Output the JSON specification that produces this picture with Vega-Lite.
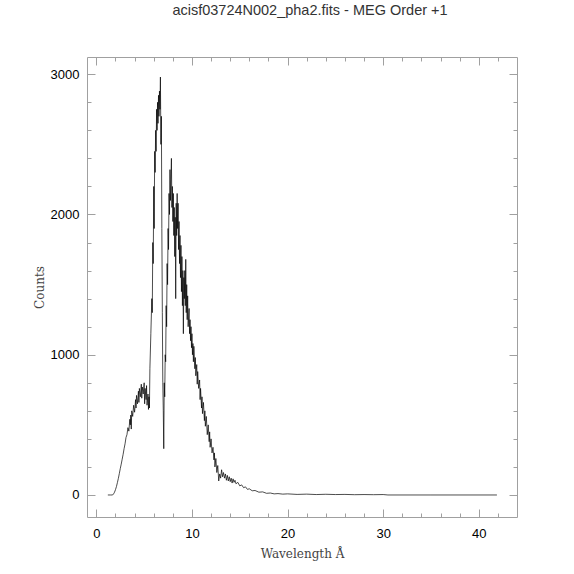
{
  "$schema": "https://vega.github.io/schema/vega-lite/v6.json",
  "width": 430,
  "height": 460,
  "autosize": "none",
  "padding": {"left": 87, "top": 57, "right": 57, "bottom": 57},
  "background": "white",
  "title": {
    "text": "acisf03724N002_pha2.fits - MEG Order +1",
    "font": "Liberation Sans",
    "fontSize": 14.5,
    "fontWeight": "normal",
    "color": "#333333",
    "anchor": "middle",
    "dx": 8,
    "offset": 38
  },
  "datasets": {
    "spec": [
      {"wavelength": 1.2, "counts": 0}, {"wavelength": 1.5, "counts": 0}, {"wavelength": 1.7, "counts": 0},
      {"wavelength": 1.8, "counts": 8}, {"wavelength": 1.9, "counts": 20}, {"wavelength": 2.0, "counts": 38},
      {"wavelength": 2.1, "counts": 60}, {"wavelength": 2.2, "counts": 88}, {"wavelength": 2.3, "counts": 118},
      {"wavelength": 2.4, "counts": 152}, {"wavelength": 2.5, "counts": 188}, {"wavelength": 2.6, "counts": 220},
      {"wavelength": 2.7, "counts": 255}, {"wavelength": 2.8, "counts": 290}, {"wavelength": 2.9, "counts": 330},
      {"wavelength": 3.0, "counts": 365}, {"wavelength": 3.1, "counts": 410}, {"wavelength": 3.2, "counts": 430},
      {"wavelength": 3.3, "counts": 480}, {"wavelength": 3.4, "counts": 455}, {"wavelength": 3.5, "counts": 540},
      {"wavelength": 3.55, "counts": 500}, {"wavelength": 3.6, "counts": 570}, {"wavelength": 3.65, "counts": 470},
      {"wavelength": 3.7, "counts": 600}, {"wavelength": 3.8, "counts": 560}, {"wavelength": 3.9, "counts": 640},
      {"wavelength": 4.0, "counts": 590}, {"wavelength": 4.1, "counts": 680}, {"wavelength": 4.15, "counts": 620},
      {"wavelength": 4.2, "counts": 710}, {"wavelength": 4.3, "counts": 650}, {"wavelength": 4.4, "counts": 740},
      {"wavelength": 4.45, "counts": 660}, {"wavelength": 4.5, "counts": 760}, {"wavelength": 4.6, "counts": 700},
      {"wavelength": 4.7, "counts": 790}, {"wavelength": 4.75, "counts": 690}, {"wavelength": 4.8, "counts": 770},
      {"wavelength": 4.9, "counts": 720}, {"wavelength": 5.0, "counts": 800}, {"wavelength": 5.05, "counts": 650},
      {"wavelength": 5.1, "counts": 760}, {"wavelength": 5.2, "counts": 680}, {"wavelength": 5.25, "counts": 780},
      {"wavelength": 5.3, "counts": 640}, {"wavelength": 5.4, "counts": 720}, {"wavelength": 5.45, "counts": 610},
      {"wavelength": 5.5, "counts": 700}, {"wavelength": 5.55, "counts": 620}, {"wavelength": 5.6, "counts": 900},
      {"wavelength": 5.7, "counts": 1150}, {"wavelength": 5.8, "counts": 1400}, {"wavelength": 5.85, "counts": 1300},
      {"wavelength": 5.9, "counts": 1800}, {"wavelength": 5.95, "counts": 1650}, {"wavelength": 6.0, "counts": 2200},
      {"wavelength": 6.05, "counts": 1900}, {"wavelength": 6.1, "counts": 2450}, {"wavelength": 6.15, "counts": 2300},
      {"wavelength": 6.2, "counts": 2600}, {"wavelength": 6.25, "counts": 2450}, {"wavelength": 6.3, "counts": 2750},
      {"wavelength": 6.35, "counts": 2600}, {"wavelength": 6.4, "counts": 2800}, {"wavelength": 6.45, "counts": 2650},
      {"wavelength": 6.5, "counts": 2850}, {"wavelength": 6.55, "counts": 2700}, {"wavelength": 6.6, "counts": 2880},
      {"wavelength": 6.65, "counts": 2750}, {"wavelength": 6.7, "counts": 2980}, {"wavelength": 6.75, "counts": 2500},
      {"wavelength": 6.8, "counts": 2700}, {"wavelength": 6.85, "counts": 1900}, {"wavelength": 6.9, "counts": 1300},
      {"wavelength": 6.95, "counts": 800}, {"wavelength": 7.0, "counts": 600}, {"wavelength": 7.05, "counts": 330},
      {"wavelength": 7.1, "counts": 800}, {"wavelength": 7.15, "counts": 700}, {"wavelength": 7.2, "counts": 1000},
      {"wavelength": 7.25, "counts": 950}, {"wavelength": 7.3, "counts": 1350}, {"wavelength": 7.35, "counts": 1200},
      {"wavelength": 7.4, "counts": 1650}, {"wavelength": 7.45, "counts": 1500}, {"wavelength": 7.5, "counts": 1900},
      {"wavelength": 7.55, "counts": 1750}, {"wavelength": 7.6, "counts": 2150}, {"wavelength": 7.65, "counts": 2000},
      {"wavelength": 7.7, "counts": 2320}, {"wavelength": 7.75, "counts": 2100}, {"wavelength": 7.8, "counts": 2250},
      {"wavelength": 7.85, "counts": 2400}, {"wavelength": 7.9, "counts": 2050}, {"wavelength": 7.95, "counts": 2200},
      {"wavelength": 8.0, "counts": 1950}, {"wavelength": 8.05, "counts": 2150}, {"wavelength": 8.1, "counts": 1850},
      {"wavelength": 8.15, "counts": 2050}, {"wavelength": 8.2, "counts": 1700}, {"wavelength": 8.25, "counts": 1980},
      {"wavelength": 8.3, "counts": 1400}, {"wavelength": 8.35, "counts": 2080}, {"wavelength": 8.4, "counts": 1850},
      {"wavelength": 8.45, "counts": 2150}, {"wavelength": 8.5, "counts": 1900}, {"wavelength": 8.55, "counts": 2080},
      {"wavelength": 8.6, "counts": 1750}, {"wavelength": 8.65, "counts": 1950}, {"wavelength": 8.7, "counts": 1650},
      {"wavelength": 8.75, "counts": 1850}, {"wavelength": 8.8, "counts": 1550}, {"wavelength": 8.85, "counts": 1780},
      {"wavelength": 8.9, "counts": 1450}, {"wavelength": 8.95, "counts": 1700}, {"wavelength": 9.0, "counts": 1350},
      {"wavelength": 9.05, "counts": 1600}, {"wavelength": 9.1, "counts": 1150}, {"wavelength": 9.15, "counts": 1550},
      {"wavelength": 9.2, "counts": 1400}, {"wavelength": 9.25, "counts": 1600}, {"wavelength": 9.3, "counts": 1350},
      {"wavelength": 9.35, "counts": 1680}, {"wavelength": 9.4, "counts": 1300}, {"wavelength": 9.45, "counts": 1500},
      {"wavelength": 9.5, "counts": 1250}, {"wavelength": 9.55, "counts": 1420}, {"wavelength": 9.6, "counts": 1200},
      {"wavelength": 9.7, "counts": 1330}, {"wavelength": 9.75, "counts": 1150}, {"wavelength": 9.8, "counts": 1250},
      {"wavelength": 9.85, "counts": 1100}, {"wavelength": 9.9, "counts": 1200}, {"wavelength": 9.95, "counts": 1050},
      {"wavelength": 10.0, "counts": 1150}, {"wavelength": 10.05, "counts": 1000}, {"wavelength": 10.1, "counts": 1080},
      {"wavelength": 10.15, "counts": 950}, {"wavelength": 10.2, "counts": 1060}, {"wavelength": 10.3, "counts": 900},
      {"wavelength": 10.35, "counts": 980}, {"wavelength": 10.4, "counts": 850}, {"wavelength": 10.5, "counts": 930},
      {"wavelength": 10.55, "counts": 790}, {"wavelength": 10.6, "counts": 880}, {"wavelength": 10.7, "counts": 760},
      {"wavelength": 10.8, "counts": 820}, {"wavelength": 10.85, "counts": 680}, {"wavelength": 10.9, "counts": 760},
      {"wavelength": 11.0, "counts": 620}, {"wavelength": 11.05, "counts": 700}, {"wavelength": 11.1, "counts": 580},
      {"wavelength": 11.2, "counts": 660}, {"wavelength": 11.3, "counts": 530}, {"wavelength": 11.35, "counts": 600},
      {"wavelength": 11.4, "counts": 490}, {"wavelength": 11.5, "counts": 560}, {"wavelength": 11.6, "counts": 430},
      {"wavelength": 11.7, "counts": 500}, {"wavelength": 11.8, "counts": 380}, {"wavelength": 11.85, "counts": 450},
      {"wavelength": 11.9, "counts": 340}, {"wavelength": 12.0, "counts": 400}, {"wavelength": 12.1, "counts": 300},
      {"wavelength": 12.2, "counts": 340}, {"wavelength": 12.3, "counts": 250}, {"wavelength": 12.35, "counts": 300},
      {"wavelength": 12.4, "counts": 200}, {"wavelength": 12.5, "counts": 260}, {"wavelength": 12.6, "counts": 160},
      {"wavelength": 12.7, "counts": 210}, {"wavelength": 12.8, "counts": 100}, {"wavelength": 12.9, "counts": 150},
      {"wavelength": 13.0, "counts": 120}, {"wavelength": 13.1, "counts": 180}, {"wavelength": 13.2, "counts": 130},
      {"wavelength": 13.3, "counts": 160}, {"wavelength": 13.4, "counts": 120}, {"wavelength": 13.5, "counts": 150},
      {"wavelength": 13.6, "counts": 105}, {"wavelength": 13.7, "counts": 140}, {"wavelength": 13.8, "counts": 100},
      {"wavelength": 13.9, "counts": 130}, {"wavelength": 14.0, "counts": 95}, {"wavelength": 14.1, "counts": 120},
      {"wavelength": 14.2, "counts": 85}, {"wavelength": 14.3, "counts": 115}, {"wavelength": 14.4, "counts": 90},
      {"wavelength": 14.5, "counts": 105}, {"wavelength": 14.6, "counts": 80}, {"wavelength": 14.8, "counts": 90},
      {"wavelength": 15.0, "counts": 65}, {"wavelength": 15.2, "counts": 72}, {"wavelength": 15.4, "counts": 52},
      {"wavelength": 15.6, "counts": 58}, {"wavelength": 15.8, "counts": 40}, {"wavelength": 16.0, "counts": 44},
      {"wavelength": 16.3, "counts": 30}, {"wavelength": 16.6, "counts": 32}, {"wavelength": 17.0, "counts": 20},
      {"wavelength": 17.4, "counts": 22}, {"wavelength": 17.8, "counts": 12}, {"wavelength": 18.2, "counts": 14},
      {"wavelength": 18.6, "counts": 8}, {"wavelength": 19.0, "counts": 10}, {"wavelength": 19.5, "counts": 6},
      {"wavelength": 20.0, "counts": 8}, {"wavelength": 21.0, "counts": 4}, {"wavelength": 22.0, "counts": 6},
      {"wavelength": 23.0, "counts": 3}, {"wavelength": 24.0, "counts": 5}, {"wavelength": 25.0, "counts": 3},
      {"wavelength": 26.0, "counts": 4}, {"wavelength": 27.0, "counts": 2}, {"wavelength": 28.0, "counts": 3},
      {"wavelength": 29.0, "counts": 2}, {"wavelength": 30.0, "counts": 3}, {"wavelength": 30.5, "counts": 0},
      {"wavelength": 35.0, "counts": 0}, {"wavelength": 41.9, "counts": 0}
    ]
  },
  "layer": [
    {
      "data": {"name": "spec"},
      "mark": {"type": "line", "color": "#000000", "strokeWidth": 0.7, "interpolate": "linear"},
      "encoding": {
        "x": {
          "field": "wavelength",
          "type": "quantitative",
          "scale": {"domain": [-0.98, 44.0], "nice": false, "zero": false},
          "axis": {
            "orient": "bottom",
            "title": "Wavelength Å",
            "values": [0, 2, 4, 6, 8, 10, 12, 14, 16, 18, 20, 22, 24, 26, 28, 30, 32, 34, 36, 38, 40, 42],
            "labelExpr": "datum.value % 10 === 0 ? datum.label : ''",
            "tickSize": {"condition": {"test": "datum.value % 10 === 0", "value": -8}, "value": -4},
            "labelPadding": 18,
            "titlePadding": 8
          }
        },
        "y": {
          "field": "counts",
          "type": "quantitative",
          "scale": {"domain": [-157, 3123], "nice": false, "zero": false},
          "axis": {
            "orient": "left",
            "title": "Counts",
            "values": [0, 200, 400, 600, 800, 1000, 1200, 1400, 1600, 1800, 2000, 2200, 2400, 2600, 2800, 3000],
            "labelExpr": "datum.value % 1000 === 0 ? datum.label : ''",
            "format": "d",
            "tickSize": {"condition": {"test": "datum.value % 1000 === 0", "value": -8}, "value": -4},
            "labelPadding": 16,
            "titlePadding": 4
          }
        }
      }
    },
    {
      "data": {"name": "spec"},
      "mark": {"type": "line", "color": "#000000", "strokeWidth": 0.7, "opacity": 0},
      "encoding": {
        "x": {
          "field": "wavelength",
          "type": "quantitative",
          "scale": {"domain": [-0.98, 44.0], "nice": false, "zero": false},
          "axis": {
            "orient": "top",
            "title": null,
            "labels": false,
            "values": [0, 2, 4, 6, 8, 10, 12, 14, 16, 18, 20, 22, 24, 26, 28, 30, 32, 34, 36, 38, 40, 42],
            "tickSize": {"condition": {"test": "datum.value % 10 === 0", "value": -8}, "value": -4}
          }
        },
        "y": {
          "field": "counts",
          "type": "quantitative",
          "scale": {"domain": [-157, 3123], "nice": false, "zero": false},
          "axis": {
            "orient": "right",
            "title": null,
            "labels": false,
            "values": [0, 200, 400, 600, 800, 1000, 1200, 1400, 1600, 1800, 2000, 2200, 2400, 2600, 2800, 3000],
            "tickSize": {"condition": {"test": "datum.value % 1000 === 0", "value": -8}, "value": -4}
          }
        }
      }
    }
  ],
  "resolve": {"axis": {"x": "independent", "y": "independent"}},
  "config": {
    "view": {"stroke": null},
    "axis": {
      "grid": false,
      "domainColor": "#a0a0a0",
      "domainWidth": 1,
      "tickColor": "#a0a0a0",
      "tickWidth": 1,
      "labelFont": "Liberation Sans",
      "labelFontSize": 13,
      "labelColor": "#000000",
      "titleFont": "DejaVu Serif",
      "titleFontSize": 12,
      "titleFontWeight": "normal",
      "titleColor": "#444444"
    }
  }
}
